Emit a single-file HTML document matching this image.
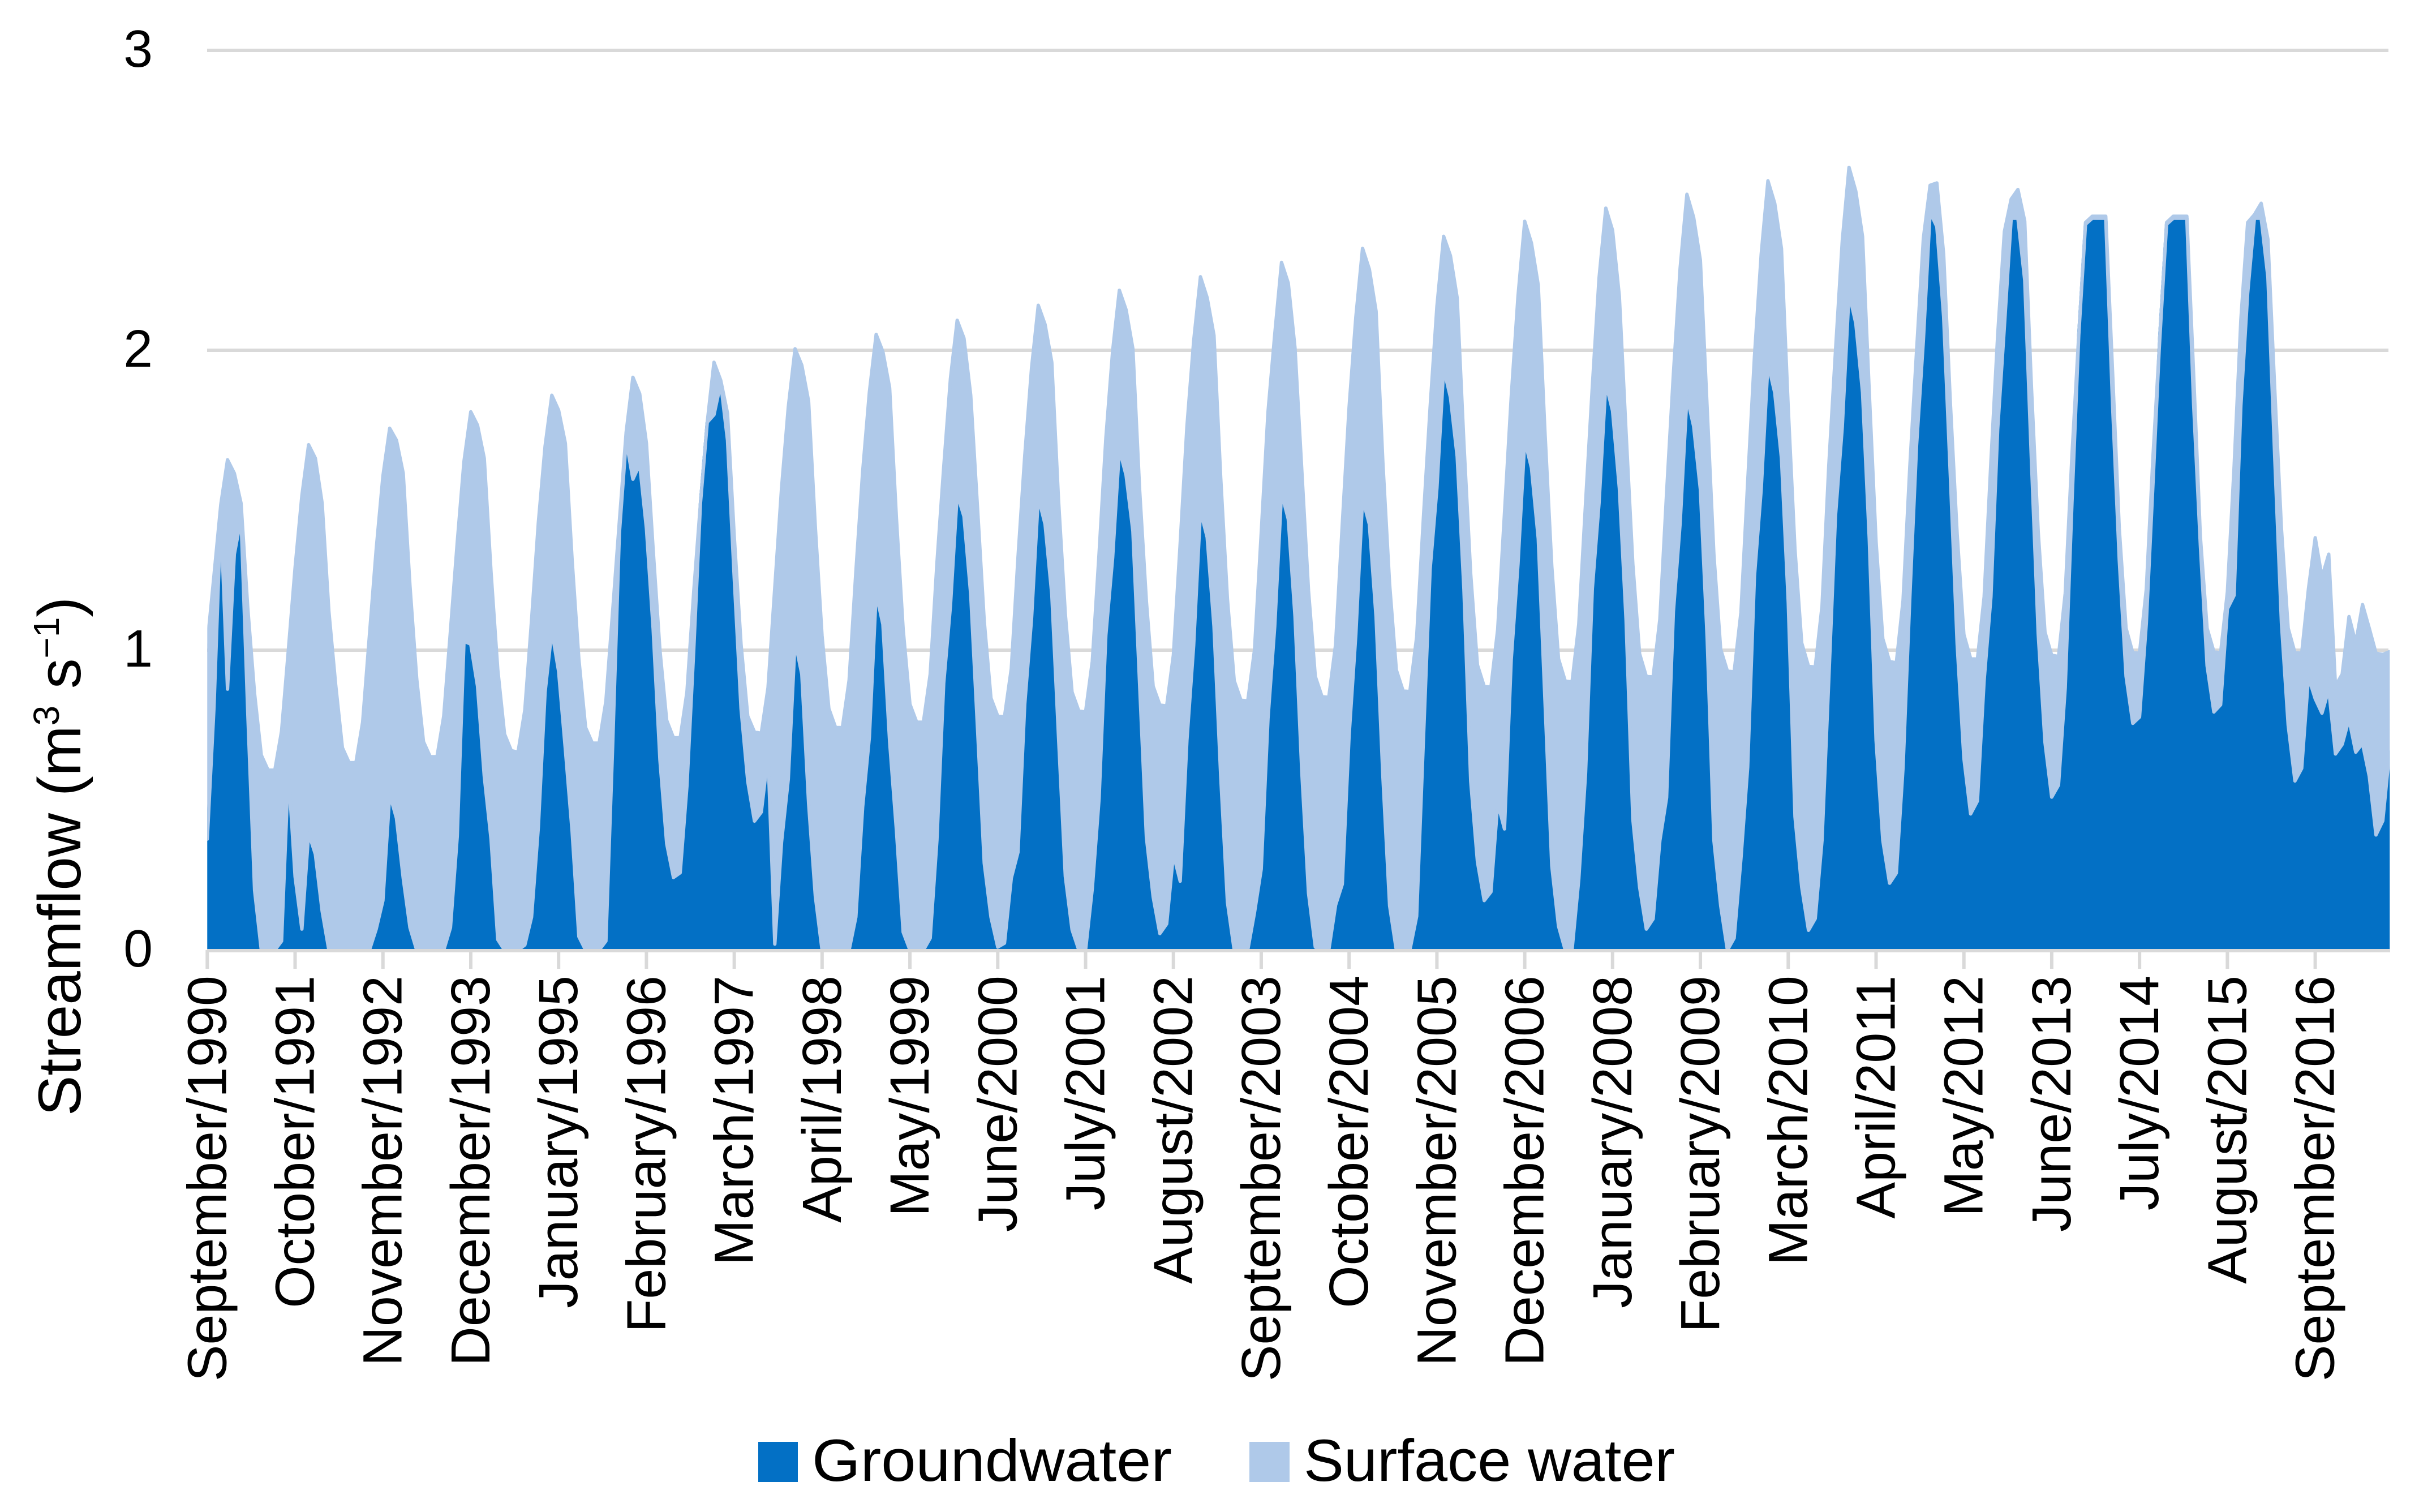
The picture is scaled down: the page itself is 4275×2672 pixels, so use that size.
<!DOCTYPE html>
<html lang="en">
<head>
<meta charset="utf-8">
<title>Streamflow: groundwater and surface water</title>
<style>
html,body{margin:0;padding:0;background:#fff;}
body{width:4275px;height:2672px;overflow:hidden;}
svg{display:block;}
text{font-family:"Liberation Sans",sans-serif;fill:#000;}
</style>
</head>
<body>
<svg id="chart" xmlns="http://www.w3.org/2000/svg" width="4275" height="2672" viewBox="0 0 4275 2672">
  <rect x="0" y="0" width="4275" height="2672" fill="#ffffff"/>
  <defs>
    <clipPath id="plot-clip"><rect x="366.3" y="0" width="3857" height="1682"/></clipPath>
  </defs>
  <g id="grid"></g>
  <g id="areas" clip-path="url(#plot-clip)"></g>
  <g id="axis"></g>
  <g id="ylabels"></g>
  <g id="xlabels"></g>
  <text transform="translate(142,1972) rotate(-90)" font-size="107">Streamflow (m<tspan font-size="64" dy="-38">3</tspan><tspan dy="38"> s</tspan><tspan font-size="64" dy="-38">−1</tspan><tspan dy="38">)</tspan></text>
  <g>
    <rect x="1340" y="2548" width="70" height="71" fill="#0370C5"/>
    <text x="1435" y="2617" font-size="105" textLength="636" lengthAdjust="spacingAndGlyphs">Groundwater</text>
    <rect x="2208" y="2548" width="71" height="71" fill="#AFC9E9"/>
    <text x="2304" y="2617" font-size="105" textLength="656" lengthAdjust="spacingAndGlyphs">Surface water</text>
  </g>
</svg>
<script>
var tickLabels = ["September/1990","October/1991","November/1992","December/1993","January/1995","February/1996","March/1997","April/1998","May/1999","June/2000","July/2001","August/2002","September/2003","October/2004","November/2005","December/2006","January/2008","February/2009","March/2010","April/2011","May/2012","June/2013","July/2014","August/2015","September/2016"];
var yTicks = [0,1,2,3];
var groundwater = [
.37,.81,1.45,.87,1.32,1.44,.79,.20,0,0,0,.03,
.60,.245,.07,.39,.32,.13,0,0,0,0,0,0,
0,.07,.165,.52,.44,.24,.075,0,0,0,0,0,
.075,.38,1.03,1.02,.88,.58,.37,.035,0,0,0,.017,
.11,.41,.86,1.065,.93,.67,.395,.045,0,0,0,.03,
.68,1.39,1.70,1.57,1.62,1.406,1.07,.633,.355,.242,.258,.547,
1.0,1.49,1.76,1.785,1.89,1.70,1.24,.805,.5625,.43,.46,.65,
.02,.36,.57,1.03,.92,.49,.18,0,0,0,0,0,
.11,.477,.71,1.19,1.086,.695,.40,.06,0,0,0,.04,
.367,.89,1.148,1.52,1.446,1.186,.74,.29,.11,.01,.023,.24,
.327,.82,1.105,1.51,1.42,1.186,.71,.246,.068,0,0,.206,
.506,1.05,1.308,1.67,1.583,1.397,.886,.376,.178,.055,.0875,.32,
.23,.70,1.016,1.465,1.376,1.08,.58,.16,0,0,0,.125,
.27,.773,1.08,1.525,1.437,1.113,.595,.19,.01,0,0,.15,
.22,.715,1.052,1.505,1.42,1.11,.58,.148,0,0,0,.113,
.70,1.27,1.54,1.94,1.843,1.646,1.204,.564,.295,.165,.194,.49,
.404,.968,1.288,1.70,1.608,1.372,.83,.281,.08,0,0,.236,
.59,1.204,1.49,1.89,1.798,1.54,1.10,.438,.21,.07,.104,.365,
.508,1.128,1.422,1.845,1.747,1.536,1.04,.366,.148,0,.04,.305,
.61,1.248,1.536,1.955,1.859,1.64,1.16,.445,.21,.066,.105,.366,
.90,1.449,1.745,2.19,2.09,1.859,1.37,.70,.366,.223,.257,.61,
1.178,1.684,2.033,2.46,2.412,2.112,1.58,1.02,.64,.454,.497,.90,
1.178,1.736,2.08,2.44,2.44,2.234,1.63,1.056,.693,.51,.55,.875,
1.492,2.05,2.42,2.44,2.44,2.44,1.82,1.30,.913,.756,.777,1.09,
1.56,2.05,2.42,2.44,2.44,2.44,1.82,1.35,.948,.794,.818,1.138,
1.183,1.815,2.19,2.44,2.44,2.243,1.65,1.09,.75,.564,.606,.91,
.838,.79,.87,.654,.686,.77,.66,.689,.58,.384,.431,.66
];
var totalStreamflow = [
1.02,1.25,1.485,1.635,1.59,1.49,1.14,.855,.65,.60,.60,.73,
1.0,1.275,1.515,1.685,1.64,1.49,1.13,.885,.675,.625,.625,.76,
1.05,1.335,1.58,1.74,1.70,1.59,1.215,.905,.695,.645,.645,.78,
1.065,1.36,1.63,1.795,1.75,1.64,1.26,.935,.72,.665,.66,.80,
1.10,1.425,1.68,1.85,1.80,1.69,1.30,.97,.742,.69,.69,.83,
1.13,1.43,1.727,1.91,1.855,1.69,1.335,1.0,.766,.708,.708,.86,
1.195,1.49,1.76,1.96,1.90,1.79,1.38,1.02,.78,.727,.723,.875,
1.21,1.54,1.81,2.005,1.95,1.83,1.41,1.047,.805,.742,.742,.90,
1.26,1.594,1.86,2.053,1.995,1.875,1.44,1.07,.82,.76,.76,.92,
1.29,1.61,1.906,2.10,2.04,1.85,1.475,1.097,.84,.78,.778,.938,
1.31,1.648,1.94,2.15,2.086,1.96,1.50,1.12,.86,.797,.794,.963,
1.324,1.705,1.997,2.20,2.135,2.005,1.535,1.162,.88,.817,.814,.984,
1.356,1.745,2.03,2.245,2.175,2.05,1.575,1.17,.898,.833,.831,1.0,
1.39,1.794,2.053,2.293,2.224,2.008,1.60,1.198,.912,.845,.843,1.018,
1.42,1.81,2.11,2.34,2.27,2.13,1.625,1.22,.934,.864,.862,1.044,
1.44,1.81,2.146,2.38,2.315,2.175,1.69,1.254,.951,.879,.877,1.069,
1.456,1.843,2.18,2.43,2.357,2.217,1.725,1.28,.971,.897,.894,1.086,
1.49,1.877,2.24,2.474,2.40,2.18,1.725,1.288,.988,.912,.911,1.103,
1.524,1.92,2.273,2.52,2.443,2.30,1.806,1.318,1.003,.93,.928,1.126,
1.56,1.98,2.32,2.565,2.49,2.339,1.806,1.335,1.024,.946,.944,1.147,
1.614,1.998,2.365,2.61,2.53,2.379,1.859,1.361,1.038,.962,.958,1.166,
1.614,1.998,2.373,2.55,2.558,2.321,1.824,1.387,1.052,.972,.97,1.178,
1.63,2.05,2.396,2.504,2.536,2.431,1.876,1.396,1.06,.983,.979,1.19,
1.65,2.05,2.426,2.447,2.447,2.447,1.93,1.405,1.073,.991,.99,1.204,
1.65,2.04,2.426,2.447,2.447,2.447,1.92,1.379,1.073,.995,.991,1.195,
1.614,2.103,2.426,2.452,2.49,2.37,1.876,1.405,1.073,.991,.99,1.204,
1.375,1.243,1.32,.881,.92,1.112,1.024,1.152,1.073,.99,.986,.995
];

var SVG_NS = 'http://www.w3.org/2000/svg';
var X_ORIGIN = 366.3, MONTH_STEP = 11.94, TICK_EVERY = 13;
var Y_ZERO = 1679, UNIT = 530;
function xScale(i){ return X_ORIGIN + MONTH_STEP * i; }
function yScale(v){ return Y_ZERO - UNIT * v; }
function make(tag, attrs, parent){
  var el = document.createElementNS(SVG_NS, tag);
  for (var k in attrs) el.setAttribute(k, attrs[k]);
  parent.appendChild(el);
  return el;
}
function lineThrough(values, reverse){
  var pts = [];
  for (var i = 0; i < values.length; i++) pts.push(xScale(i).toFixed(1) + ' ' + yScale(values[i]).toFixed(1));
  if (reverse) pts.reverse();
  return pts.join(' L');
}

var gridG = document.getElementById('grid');
var yLabG = document.getElementById('ylabels');
yTicks.forEach(function(t){
  if (t !== 0) {
    var g = make('line', {x1:366, x2:4221, y1:yScale(t), y2:yScale(t), stroke:'#D9D9D9', 'stroke-width':6}, gridG);
    
    
  }
  var lab = make('text', {x:270, y:yScale(t)+29, 'font-size':93, 'text-anchor':'end'}, yLabG);
  
  
  lab.textContent = t;
});

var areaG = document.getElementById('areas');
var n = groundwater.length;
var gwPath = 'M' + xScale(0) + ' ' + Y_ZERO + ' L' + lineThrough(groundwater, false) + ' L' + xScale(n-1) + ' ' + Y_ZERO + ' Z';
var gwArea = make('path', {d:gwPath, fill:'#0370C5', stroke:'#0370C5', 'stroke-width':6, 'stroke-linejoin':'round'}, areaG);


var swPath = 'M' + lineThrough(totalStreamflow, false) + ' L' + lineThrough(groundwater, true) + ' Z';
var swArea = make('path', {d:swPath, fill:'#AFC9E9', stroke:'#AFC9E9', 'stroke-width':6, 'stroke-linejoin':'round'}, areaG);



var axisG = document.getElementById('axis');
var xLabG = document.getElementById('xlabels');
var baseLine = make('line', {x1:366, x2:4224, y1:Y_ZERO+1, y2:Y_ZERO+1, stroke:'#D9D9D9', 'stroke-width':6}, axisG);


tickLabels.forEach(function(label, k){
  var x = xScale(k * TICK_EVERY);
  var tick = make('line', {x1:x, x2:x, y1:Y_ZERO, y2:Y_ZERO+33, stroke:'#D9D9D9', 'stroke-width':6}, axisG);
  
  
  var t = make('text', {transform:'translate(' + (x+33) + ',1724) rotate(-90)', 'font-size':97, 'text-anchor':'end'}, xLabG);
  
  
  t.textContent = label;
});
</script>
</body>
</html>
